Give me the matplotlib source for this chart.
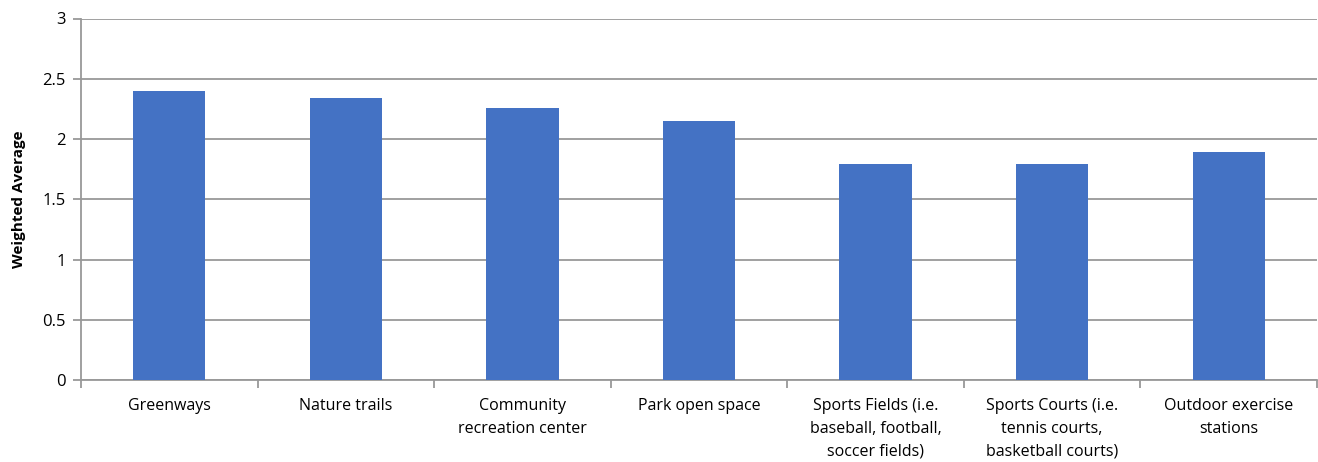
import matplotlib
matplotlib.use("Agg")
import matplotlib.pyplot as plt
import numpy as np

categories = ["Greenways", "Nature trails", "Community\nrecreation center", "Park open space",
              "Sports Fields (i.e.\nbaseball, football,\nsoccer fields)",
              "Sports Courts (i.e.\ntennis courts,\nbasketball courts)",
              "Outdoor exercise\nstations"]
values = [2.40, 2.34, 2.26, 2.15, 1.79, 1.79, 1.89]
yticks = [0, 0.5, 1, 1.5, 2, 2.5, 3]
ytick_labels = ["0", "0.5", "1", "1.5", "2", "2.5", "3"]

plt.rcParams['font.family'] = ['Open Sans', 'DejaVu Sans']

fig = plt.figure(figsize=(13.18, 4.62), dpi=100)
ax = fig.add_axes([81/1318, 1-380/462, 1-81/1318 - 1/1318, (380-18.5)/462])

x = np.arange(len(categories))
ax.bar(x, values, width=0.41, color="#4472C4", zorder=3)

ax.set_xlim(-0.5, len(categories) - 0.5)
ax.set_ylim(0, 3)
ax.set_yticks(yticks)
ax.set_yticklabels(ytick_labels, fontsize=12)
ax.yaxis.grid(True, color="#999999", linewidth=1.3, zorder=0)
ax.set_axisbelow(True)

ax.set_xticks(x)
ax.set_xticklabels(categories, fontsize=11.5, linespacing=1.55, color="#000000")
ax.tick_params(axis='x', which='major', length=0, pad=13)
ax.set_xticks(np.arange(-0.5, len(categories) + 0.5, 1), minor=True)
ax.tick_params(axis='x', which='minor', length=6, color="#999999", width=1.3)
ax.tick_params(axis='y', length=6, color="#999999", width=1.3, pad=5)

for s in ["top", "right"]:
    ax.spines[s].set_visible(False)
for s in ["left", "bottom"]:
    ax.spines[s].set_color("#999999")
    ax.spines[s].set_linewidth(1.3)

ax.set_ylabel("Weighted Average", fontsize=11, fontweight="bold", labelpad=12)

fig.savefig("out.png", dpi=100)
